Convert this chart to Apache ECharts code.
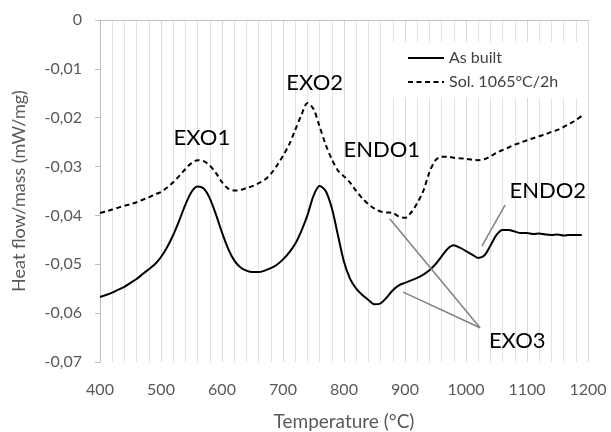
<!DOCTYPE html>
<html>
<head>
<meta charset="utf-8">
<script src="https://cdn.jsdelivr.net/npm/echarts@6/dist/echarts.min.js"></script>
<style>
  html, body { margin: 0; padding: 0; background: #fff; }
  #chart { width: 611px; height: 432px; }
</style>
</head>
<body>
<div id="chart"></div>
<script>
// temperature steps (°C)
var temps = [400,410,420,430,440,450,460,470,480,490,500,510,520,530,540,550,560,570,580,590,
  600,610,620,630,640,650,660,670,680,690,700,710,720,730,740,750,760,770,780,790,
  800,810,820,830,840,850,860,870,880,890,900,910,920,930,940,950,960,970,980,990,
  1000,1010,1020,1030,1040,1050,1060,1070,1080,1090,1100,1110,1120,1130,1140,1150,1160,1170,1180,1190];

// heat flow, as built
var asBuilt = [-0.0567,-0.0563,-0.0558,-0.0552,-0.0546,-0.0538,-0.0530,-0.0520,-0.0510,-0.0500,
  -0.0485,-0.0465,-0.0440,-0.0410,-0.0378,-0.0352,-0.0341,-0.0345,-0.0365,-0.0398,
  -0.0435,-0.0468,-0.0492,-0.0506,-0.0513,-0.0516,-0.0516,-0.0513,-0.0508,-0.0501,
  -0.0490,-0.0476,-0.0458,-0.0432,-0.0400,-0.0360,-0.0340,-0.0350,-0.0385,-0.0440,
  -0.0495,-0.0530,-0.0550,-0.0563,-0.0573,-0.0582,-0.0580,-0.0568,-0.0553,-0.0543,
  -0.0538,-0.0533,-0.0528,-0.0521,-0.0512,-0.0500,-0.0484,-0.0468,-0.0461,-0.0466,
  -0.0473,-0.0480,-0.0487,-0.0482,-0.0462,-0.0440,-0.0430,-0.0430,-0.0433,-0.0436,
  -0.0436,-0.0438,-0.0437,-0.0439,-0.0440,-0.0439,-0.0441,-0.0440,-0.0440,-0.0440];

// heat flow, solution treated 1065°C/2h
var solution = [-0.0395,-0.0392,-0.0388,-0.0384,-0.0380,-0.0377,-0.0373,-0.0368,-0.0363,-0.0357,
  -0.0352,-0.0343,-0.0332,-0.0319,-0.0305,-0.0293,-0.0287,-0.0289,-0.0298,-0.0313,
  -0.0332,-0.0345,-0.0349,-0.0348,-0.0344,-0.0340,-0.0334,-0.0327,-0.0315,-0.0298,
  -0.0278,-0.0255,-0.0225,-0.0195,-0.0170,-0.0182,-0.0218,-0.0255,-0.0285,-0.0308,
  -0.0320,-0.0333,-0.0350,-0.0365,-0.0377,-0.0386,-0.0392,-0.0394,-0.0395,-0.0402,
  -0.0405,-0.0394,-0.0375,-0.0350,-0.0312,-0.0287,-0.0280,-0.0280,-0.0282,-0.0283,
  -0.0284,-0.0286,-0.0287,-0.0285,-0.0279,-0.0272,-0.0266,-0.0261,-0.0255,-0.0251,
  -0.0246,-0.0242,-0.0238,-0.0234,-0.0229,-0.0225,-0.0219,-0.0212,-0.0205,-0.0196];

// peak labels [name, temp, value]
var peakLabels = [
  ['EXO1', 567, -0.0242],
  ['EXO2', 752, -0.0129],
  ['ENDO1', 862, -0.0266],
  ['ENDO2', 1134, -0.0350],
  ['EXO3', 1084, -0.0657]
];

// pointer lines [[t1, v1], [t2, v2]]
var pointers = [
  [[875, -0.0407], [1023, -0.0630]],
  [[897, -0.0557], [1023, -0.0630]],
  [[1026, -0.0463], [1064, -0.0379]]
];

var font = 'Lato';

function pairs(ys) {
  return temps.map(function (t, i) { return [t, ys[i]]; });
}

var myChart = echarts.init(document.getElementById('chart'));
myChart.setOption({
  animation: false,
  textStyle: { fontFamily: font },
  grid: { left: 100, right: 23, top: 20, bottom: 70, outerBoundsMode: 'none' },
  legend: {
    orient: 'vertical',
    left: 385,
    top: 42,
    padding: [8, 22, 8, 22],
    backgroundColor: '#ffffff',
    itemWidth: 36,
    itemHeight: 14,
    itemGap: 8,
    itemStyle: { opacity: 0 },
    textStyle: { fontFamily: font, fontSize: 16, color: '#404040' },
    data: ['As built', 'Sol. 1065°C/2h']
  },
  xAxis: [{
    type: 'value',
    min: 400,
    max: 1200,
    interval: 100,
    name: 'Temperature (°C)',
    nameLocation: 'middle',
    nameGap: 50,
    nameTextStyle: { fontFamily: font, fontSize: 19, color: '#595959' },
    axisLine: { show: false },
    axisTick: { show: false },
    axisLabel: {
      fontFamily: font, fontSize: 16, color: '#595959', margin: 20,
      formatter: function (v) { return String(v); }
    },
    splitLine: { show: true, lineStyle: { color: '#d9d9d9', width: 1 } },
    minorTick: { show: false, splitNumber: 5 },
    minorSplitLine: { show: true, lineStyle: { color: '#e3e3e3', width: 1 } }
  }, {
    type: 'value',
    position: 'top',
    min: 400,
    max: 1200,
    axisLine: { show: true, lineStyle: { color: '#bfbfbf', width: 1 } },
    axisTick: { show: false },
    axisLabel: { show: false },
    splitLine: { show: false }
  }],
  yAxis: {
    type: 'value',
    min: -0.07,
    max: 0,
    interval: 0.01,
    name: 'Heat flow/mass (mW/mg)',
    nameLocation: 'middle',
    nameGap: 72,
    nameTextStyle: { fontFamily: font, fontSize: 18, color: '#595959' },
    axisLine: { show: true, lineStyle: { color: '#bfbfbf', width: 1 } },
    axisTick: { show: true, length: 5, lineStyle: { color: '#bfbfbf' } },
    axisLabel: {
      fontFamily: font, fontSize: 16, color: '#595959', margin: 18,
      formatter: function (v) {
        var r = Math.round(v * 100) / 100;
        return r === 0 ? '0' : r.toFixed(2).replace('.', ',');
      }
    },
    splitLine: { show: false }
  },
  series: [
    {
      name: 'As built',
      type: 'line',
      smooth: 0.3,
      symbol: 'none',
      data: pairs(asBuilt),
      lineStyle: { color: '#000000', width: 2 },
      itemStyle: { color: '#000000' },
      markLine: {
        silent: true,
        symbol: 'none',
        label: { show: false },
        lineStyle: { color: '#808080', width: 1.5, type: 'solid' },
        data: pointers.map(function (p) {
          return [{ coord: p[0] }, { coord: p[1] }];
        })
      },
      markPoint: {
        silent: true,
        symbol: 'circle',
        symbolSize: 0,
        label: {
          show: true,
          position: 'inside',
          formatter: '{b}',
          fontFamily: font,
          fontSize: 22,
          color: '#000000'
        },
        data: peakLabels.map(function (p) {
          return { name: p[0], coord: [p[1], p[2]] };
        })
      }
    },
    {
      name: 'Sol. 1065°C/2h',
      type: 'line',
      smooth: 0.3,
      symbol: 'none',
      data: pairs(solution),
      lineStyle: { color: '#000000', width: 2, type: [5, 3.5] },
      itemStyle: { color: '#000000' }
    }
  ]
});
</script>
</body>
</html>
